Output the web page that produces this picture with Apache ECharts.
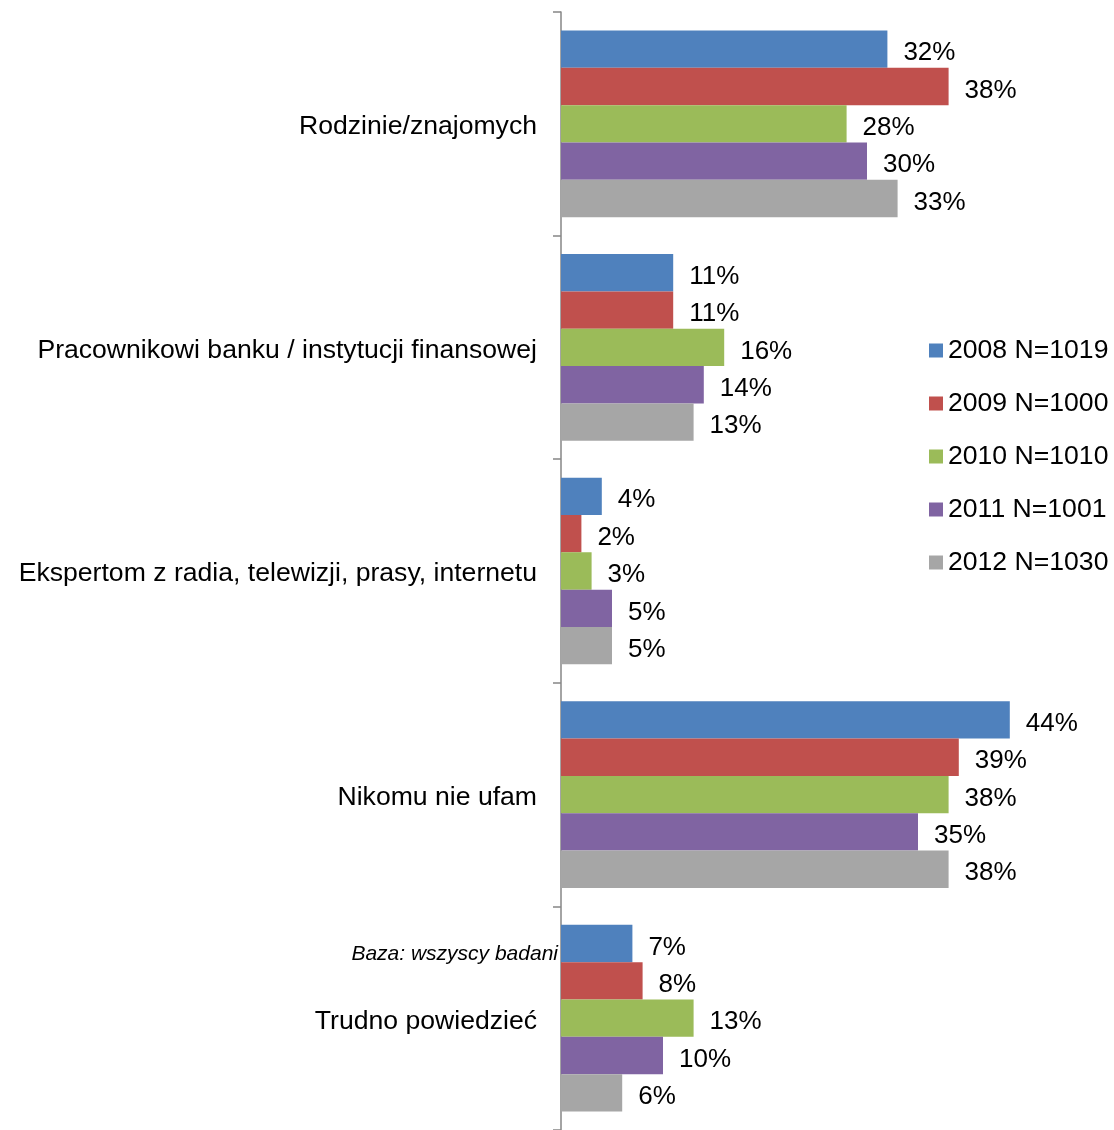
<!DOCTYPE html>
<html>
<head>
<meta charset="utf-8">
<script src="https://cdn.jsdelivr.net/npm/echarts@6/dist/echarts.min.js"></script>
<style>
html, body { margin: 0; padding: 0; background: #fff; }
#chart { width: 1114px; height: 1130px; }
</style>
</head>
<body>
<div id="chart"></div>
<script>
// Whom respondents trust in financial matters, by survey year (%)
const categories = [
  'Rodzinie/znajomych',
  'Pracownikowi banku / instytucji finansowej',
  'Ekspertom z radia, telewizji, prasy, internetu',
  'Nikomu nie ufam',
  'Trudno powiedzieć'
];
const seriesNames = ['2008 N=1019', '2009 N=1000', '2010 N=1010', '2011 N=1001', '2012 N=1030'];
const values2008 = [32, 11, 4, 44, 7];
const values2009 = [38, 11, 2, 39, 8];
const values2010 = [28, 16, 3, 38, 13];
const values2011 = [30, 14, 5, 35, 10];
const values2012 = [33, 13, 5, 38, 6];
const noteText = 'Baza: wszyscy badani';

const colors = ['#4F81BD', '#C0504D', '#9BBB59', '#8064A2', '#A6A6A6'];
const allValues = [values2008, values2009, values2010, values2011, values2012];
const font = '"Liberation Sans", Arial, sans-serif';

const chart = echarts.init(document.getElementById('chart'));
chart.setOption({
  animation: false,
  color: colors,
  textStyle: { fontFamily: font },
  grid: { left: 561, right: 43, top: 12, bottom: -2, containLabel: false },
  legend: {
    orient: 'vertical',
    left: 924,
    top: 332,
    itemWidth: 14,
    itemHeight: 14,
    itemGap: 26,
    icon: 'rect',
    textStyle: { fontSize: 26.6, color: '#000', fontFamily: font },
    data: seriesNames
  },
  xAxis: {
    type: 'value',
    min: 0,
    max: 50,
    show: false
  },
  yAxis: {
    type: 'category',
    inverse: true,
    data: categories,
    axisLine: { show: true, lineStyle: { color: '#868686', width: 1.5 } },
    axisTick: { show: true, inside: false, alignWithLabel: false, length: 8, lineStyle: { color: '#868686', width: 1.5 } },
    axisLabel: {
      fontSize: 26.6, color: '#000', margin: 24, fontFamily: font,
      verticalAlign: 'top', lineHeight: 6
    },
    splitLine: { show: false }
  },
  series: seriesNames.map((name, i) => ({
    name,
    type: 'bar',
    data: allValues[i],
    barGap: '0%',
    barCategoryGap: '16.5%',
    itemStyle: { color: colors[i] },
    label: {
      show: true,
      position: 'right',
      distance: 16,
      offset: [0, 4],
      formatter: '{c}%',
      fontSize: 26,
      color: '#000',
      fontFamily: font
    }
  })),
  graphic: [{
    type: 'text',
    right: 1114 - 558,
    top: 944,
    style: {
      text: noteText,
      font: 'italic 21px ' + font,
      fill: '#000',
      textAlign: 'right'
    }
  }]
});
</script>
</body>
</html>
